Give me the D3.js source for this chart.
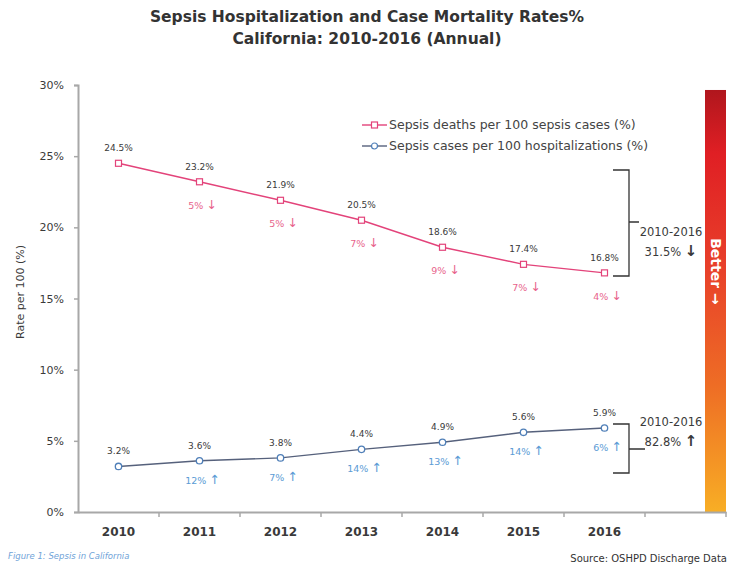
<!DOCTYPE html>
<html>
<head>
<meta charset="utf-8">
<script src="https://cdn.jsdelivr.net/npm/d3@7"></script>
<style>
  html, body { margin: 0; padding: 0; background: #fff; }
  svg { display: block; font-family: "DejaVu Sans", sans-serif; }
</style>
</head>
<body>
<svg id="chart" width="730" height="571"></svg>
<script>
// Annual sepsis rates, California 2010-2016
const years = ["2010", "2011", "2012", "2013", "2014", "2015", "2016"];
const deathRates = [24.5, 23.2, 21.9, 20.5, 18.6, 17.4, 16.8];   // deaths per 100 sepsis cases
const caseRates = [3.2, 3.6, 3.8, 4.4, 4.9, 5.6, 5.9];           // sepsis cases per 100 hospitalizations
const deathChange = ["", "5%", "5%", "7%", "9%", "7%", "4%"];     // year-over-year decrease
const caseChange = ["", "12%", "7%", "14%", "13%", "14%", "6%"];  // year-over-year increase
const yTicks = [0, 5, 10, 15, 20, 25, 30];
const seriesNames = ["Sepsis deaths per 100 sepsis cases (%)", "Sepsis cases per 100 hospitalizations (%)"];
const periodLabel = "2010-2016";
const deathOverall = "31.5%";
const caseOverall = "82.8%";

const svg = d3.select("#chart");
const deathColor = "#e3437a";
const deathText = "#e8648c";
const caseLine = "#56617c";
const caseMarker = "#4f7fb8";
const caseText = "#5b9bd5";
const ink = "#3a3a3a";

// extra empty band on the right holds the "Better" bar
const x = d3.scaleBand().domain([...years, ""]).range([78, 726]).padding(0);
const cx = d => x(d) + x.bandwidth() / 2;
const y = d3.scaleLinear().domain([0, 30]).range([512, 85]);

// titles
svg.append("text").attr("x", 367).attr("y", 22).attr("text-anchor", "middle")
  .attr("font-size", 15.5).attr("font-weight", 700).attr("fill", "#333")
  .text("Sepsis Hospitalization and Case Mortality Rates%");
svg.append("text").attr("x", 367).attr("y", 44).attr("text-anchor", "middle")
  .attr("font-size", 15.5).attr("font-weight", 700).attr("fill", "#333")
  .text("California: 2010-2016 (Annual)");

// gradient bar
const defs = svg.append("defs");
const grad = defs.append("linearGradient").attr("id", "better")
  .attr("x1", 0).attr("y1", 0).attr("x2", 0).attr("y2", 1);
[[0, "#b0161d"], [0.15, "#e01f24"], [0.42, "#e8402a"], [0.7, "#ee6d25"], [1, "#f8ae25"]]
  .forEach(([o, c]) => grad.append("stop").attr("offset", o).attr("stop-color", c));
const barX = x("") + x.bandwidth() - 21;
svg.append("rect").attr("x", barX).attr("y", y(29.65)).attr("width", 21)
  .attr("height", y(0) - y(29.65)).attr("fill", "url(#better)");
svg.append("text")
  .attr("transform", `translate(${barX + 11},${y(16.9)}) rotate(90)`)
  .attr("text-anchor", "middle").attr("dy", "0.35em")
  .attr("font-size", 14).attr("font-weight", 700).attr("fill", "#fff")
  .text("Better →");

// y axis
const yAxis = svg.append("g").attr("transform", "translate(78,0)")
  .call(d3.axisLeft(y).tickValues(yTicks).tickSize(4).tickPadding(10).tickFormat(d => d + "%"));
yAxis.select(".domain").attr("stroke", "#a8a8a8").attr("stroke-width", 2);
yAxis.selectAll(".tick line").attr("stroke", "#a8a8a8").attr("stroke-width", 1.5);
yAxis.selectAll(".tick text").attr("font-size", 11).attr("fill", ink)
  .attr("font-family", "'DejaVu Sans', sans-serif");

// x axis: ticks between categories
const xAxis = svg.append("g").attr("transform", "translate(0,512)")
  .call(d3.axisBottom(x).tickSize(0).tickPadding(15));
xAxis.select(".domain").attr("stroke", "#a8a8a8").attr("stroke-width", 2);
xAxis.selectAll(".tick text").attr("font-size", 12).attr("font-weight", 700).attr("fill", ink)
  .attr("font-family", "'DejaVu Sans', sans-serif");
const bounds = [...x.domain().map(d => x(d)).slice(1), x.range()[1]];
xAxis.selectAll("line.sep").data(bounds).join("line").attr("class", "sep")
  .attr("x1", d => d).attr("x2", d => d).attr("y1", 0).attr("y2", 5)
  .attr("stroke", "#a8a8a8").attr("stroke-width", 1.5);

// y axis title
svg.append("text").attr("transform", "translate(20,292) rotate(-90)")
  .attr("text-anchor", "middle").attr("dy", "0.35em")
  .attr("font-size", 11).attr("fill", ink).text("Rate per 100 (%)");

// lines
const line = vals => d3.line().x((d, i) => cx(years[i])).y(d => y(d))(vals);
svg.append("path").attr("d", line(deathRates)).attr("fill", "none")
  .attr("stroke", deathColor).attr("stroke-width", 1.4);
svg.append("path").attr("d", line(caseRates)).attr("fill", "none")
  .attr("stroke", caseLine).attr("stroke-width", 1.4);

// markers
svg.selectAll("rect.dm").data(deathRates).join("rect").attr("class", "dm")
  .attr("x", (d, i) => cx(years[i]) - 3).attr("y", d => y(d) - 3)
  .attr("width", 6).attr("height", 6).attr("fill", "#fff")
  .attr("stroke", deathColor).attr("stroke-width", 1.2);
svg.selectAll("circle.cm").data(caseRates).join("circle").attr("class", "cm")
  .attr("cx", (d, i) => cx(years[i])).attr("cy", d => y(d)).attr("r", 3.2)
  .attr("fill", "#fff").attr("stroke", caseMarker).attr("stroke-width", 1.3);

// value labels
const valueLabels = (vals, cls) => svg.selectAll("text." + cls).data(vals).join("text")
  .attr("class", cls).attr("x", (d, i) => cx(years[i])).attr("y", d => y(d) - 12)
  .attr("text-anchor", "middle").attr("font-size", 9).attr("fill", ink)
  .text(d => d.toFixed(1) + "%");
valueLabels(deathRates, "dv");
valueLabels(caseRates, "cv");

// year-over-year change labels
const changeLabels = (labels, vals, cls, color, arrow, dy) => {
  const t = svg.selectAll("text." + cls).data(labels).join("text").attr("class", cls)
    .attr("x", (d, i) => cx(years[i]) + 3).attr("y", (d, i) => y(vals[i]) + dy)
    .attr("text-anchor", "middle").attr("font-size", 9.5).attr("fill", color);
  t.filter(d => d).append("tspan").text(d => d + " ");
  t.filter(d => d).append("tspan").attr("font-size", 12.5).text(arrow);
};
changeLabels(deathChange, deathRates, "dc", deathText, "↓", 27);
changeLabels(caseChange, caseRates, "cc", caseText, "↑", 23);

// brackets summarising 2010-2016 change
function bracket(top, bottom, mid, tipLen) {
  const bx = 629, l = 613;
  svg.append("path")
    .attr("d", `M${l},${top}H${bx}V${bottom}H${l}M${bx},${mid}H${bx + tipLen}`)
    .attr("fill", "none").attr("stroke", "#333").attr("stroke-width", 1.3);
}
bracket(170, 276, 222, 10);
bracket(424, 473, 449, 16);

const summary = (yy, period, value, arrow) => {
  svg.append("text").attr("x", 671).attr("y", yy).attr("text-anchor", "middle")
    .attr("font-size", 11.5).attr("fill", ink).text(period);
  const t = svg.append("text").attr("x", 671).attr("y", yy + 20).attr("text-anchor", "middle")
    .attr("font-size", 11.5).attr("fill", ink);
  t.append("tspan").text(value + " ");
  t.append("tspan").attr("font-size", 15).attr("font-weight", 700).text(arrow);
};
summary(236, periodLabel, deathOverall, "↓");
summary(426, periodLabel, caseOverall, "↑");

// legend
const legend = svg.append("g").attr("transform", "translate(362,125)");
["rect", "circle"].forEach((shape, i) => {
  const g = legend.append("g").attr("transform", `translate(0,${i * 21})`);
  g.append("line").attr("x1", 0).attr("x2", 25).attr("stroke", i ? caseLine : deathColor).attr("stroke-width", 1.4);
  if (shape === "rect") {
    g.append("rect").attr("x", 9.5).attr("y", -3).attr("width", 6).attr("height", 6)
      .attr("fill", "#fff").attr("stroke", deathColor).attr("stroke-width", 1.2);
  } else {
    g.append("circle").attr("cx", 12.5).attr("r", 3).attr("fill", "#fff")
      .attr("stroke", caseMarker).attr("stroke-width", 1.2);
  }
  g.append("text").attr("x", 27).attr("dy", "0.35em").attr("font-size", 12.5)
    .attr("fill", "#444").text(seriesNames[i]);
});

// footer
svg.append("text").attr("x", 8).attr("y", 559).attr("font-size", 8.5).attr("font-style", "italic")
  .attr("fill", "#6fa3d8").text("Figure 1: Sepsis in California");
svg.append("text").attr("x", 727).attr("y", 562).attr("text-anchor", "end")
  .attr("font-size", 10).attr("fill", "#333").text("Source: OSHPD Discharge Data");
</script>
</body>
</html>
